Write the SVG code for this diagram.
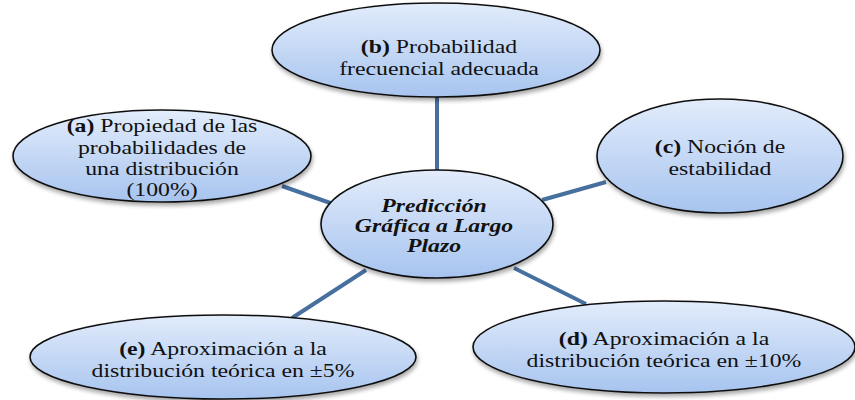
<svg xmlns="http://www.w3.org/2000/svg" width="855" height="400" viewBox="0 0 855 400">
<defs>
<linearGradient id="g" x1="0" y1="0" x2="0" y2="1">
<stop offset="0" stop-color="#e2ecfb"/>
<stop offset="1" stop-color="#a7c4ef"/>
</linearGradient>
<filter id="sh" x="-10%" y="-10%" width="120%" height="130%">
<feGaussianBlur in="SourceAlpha" stdDeviation="2"/>
<feOffset dx="1" dy="3" result="b"/>
<feComponentTransfer><feFuncA type="linear" slope="0.35"/></feComponentTransfer>
<feMerge><feMergeNode/><feMergeNode in="SourceGraphic"/></feMerge>
</filter>
</defs>
<style>
.n{fill:url(#g);stroke:#111;stroke-width:1.6;filter:url(#sh)}
.t{font-family:'Liberation Serif','DejaVu Serif',serif;font-size:19px;fill:#111;text-anchor:middle}
.c{stroke:#47709f;stroke-width:4;fill:none}
.bi{font-weight:bold;font-style:italic}
</style>
<rect width="855" height="400" fill="#fff"/>
<g id="connectors">
<line class="c" x1="437" y1="97" x2="437" y2="172"/>
<line class="c" x1="282" y1="186" x2="336" y2="205"/>
<line class="c" x1="542" y1="200" x2="606" y2="182"/>
<line class="c" x1="366" y1="270" x2="292" y2="318"/>
<line class="c" x1="514" y1="268" x2="586" y2="304"/>
</g>
<g id="node-a">
<ellipse class="n" cx="162" cy="156" rx="149" ry="46"/>
<g transform="translate(162 0) scale(1.25 1)">
<text class="t" x="0" y="132"><tspan font-weight="bold">(a)</tspan>  Propiedad de las</text>
<text class="t" x="0" y="154">probabilidades de</text>
<text class="t" x="0" y="175">una distribución</text>
<text class="t" x="0" y="196">(100%)</text>
</g>
</g>
<g id="node-b">
<ellipse class="n" cx="436" cy="50" rx="164" ry="47"/>
<g transform="translate(439 0) scale(1.25 1)">
<text class="t" x="0" y="53"><tspan font-weight="bold">(b)</tspan> Probabilidad</text>
<text class="t" x="0" y="75">frecuencial adecuada</text>
</g>
</g>
<g id="node-c">
<ellipse class="n" cx="720" cy="156" rx="123" ry="57"/>
<g transform="translate(720 0) scale(1.25 1)">
<text class="t" x="0" y="153"><tspan font-weight="bold">(c)</tspan> Noción de</text>
<text class="t" x="0" y="175">estabilidad</text>
</g>
</g>
<g id="node-center">
<ellipse class="n" cx="437" cy="224" rx="116" ry="54"/>
<g transform="translate(434 0) scale(1.25 1)">
<text class="t bi" x="0" y="212">Predicción</text>
<text class="t bi" x="0" y="232">Gráfica a Largo</text>
<text class="t bi" x="0" y="252">Plazo</text>
</g>
</g>
<g id="node-e">
<ellipse class="n" cx="223" cy="357" rx="193" ry="42"/>
<g transform="translate(223 0) scale(1.25 1)">
<text class="t" x="0" y="355"><tspan font-weight="bold">(e)</tspan> Aproximación a la</text>
<text class="t" x="0" y="377">distribución teórica en ±5%</text>
</g>
</g>
<g id="node-d">
<ellipse class="n" cx="664" cy="347" rx="191" ry="46"/>
<g transform="translate(664 0) scale(1.25 1)">
<text class="t" x="0" y="345"><tspan font-weight="bold">(d)</tspan> Aproximación a la</text>
<text class="t" x="0" y="367">distribución teórica en ±10%</text>
</g>
</g>
</svg>
